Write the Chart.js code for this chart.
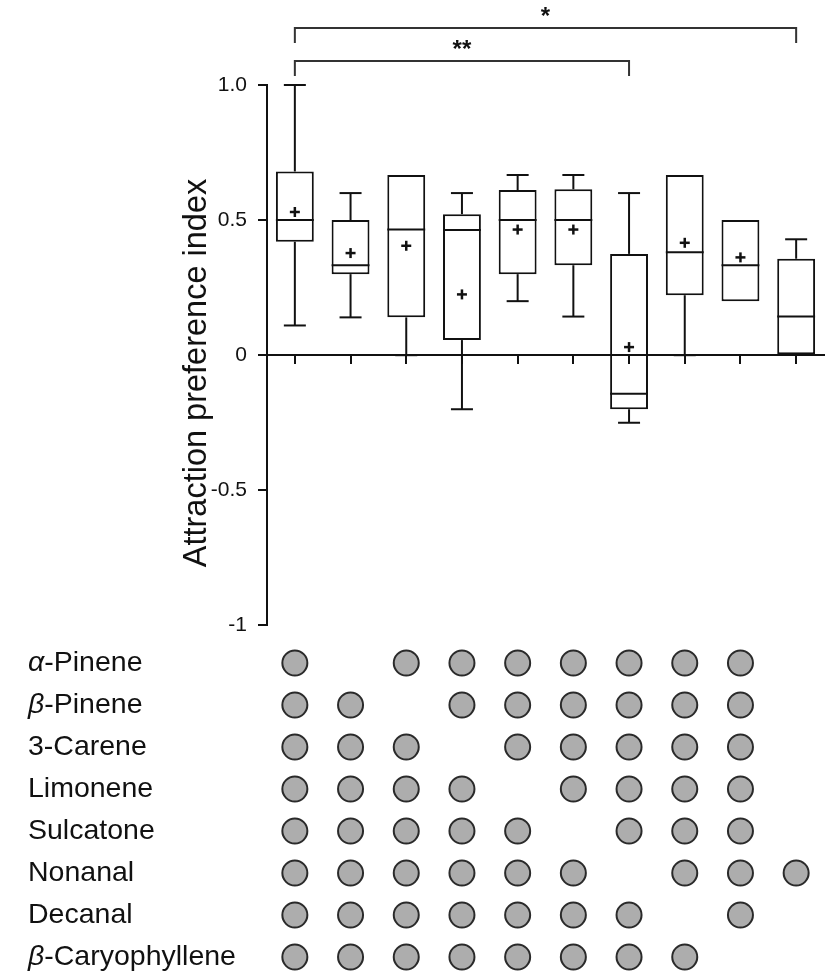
<!DOCTYPE html>
<html>
<head>
<meta charset="utf-8">
<title>Attraction preference index</title>
<script src="https://cdn.jsdelivr.net/npm/chart.js@4/dist/chart.umd.min.js"></script>
<style>
  html, body { margin: 0; padding: 0; background: #fff; overflow: hidden; }
  #wrap { position: relative; width: 828px; height: 976px; overflow: hidden; }
  canvas { display: block; position: absolute; left: 0; }
  #boxChart { top: 0; }
  #matrixChart { top: 627px; }
</style>
</head>
<body>
<div id="wrap">
  <canvas id="boxChart" width="828" height="649"></canvas>
  <canvas id="matrixChart" width="839" height="366"></canvas>
</div>
<script>
// Odour blends, one box per blend
const blends = ['1', '2', '3', '4', '5', '6', '7', '8', '9', '10'];
const whiskerLow  = [0.11, 0.14, 0,     -0.2,  0.2,   0.143, -0.25,  0,     0.2,   0];
const quartile1   = [0.42, 0.3,  0.14,  0.056, 0.3,   0.333, -0.2,   0.222, 0.2,   0];
const medians     = [0.5,  0.333, 0.465, 0.463, 0.5,  0.5,   -0.143, 0.381, 0.333, 0.143];
const quartile3   = [0.68, 0.5,  0.667, 0.522, 0.611, 0.614, 0.375,  0.667, 0.5,   0.357];
const whiskerHigh = [1.0,  0.6,  0.667, 0.6,   0.667, 0.667, 0.6,    0.667, 0.5,   0.429];
const means       = [0.53, 0.378, 0.405, 0.225, 0.465, 0.465, 0.03,  0.416, 0.362, null];

const yTicks = [-1, -0.5, 0, 0.5, 1];
const yTickLabels = ['-1', '-0.5', '0', '0.5', '1.0'];

// significance brackets (blend index from/to)
const bracketFrom = [0, 0];
const bracketTo = [9, 6];
const bracketStars = ['*', '**'];

// which compounds are in each blend
const compounds = ['α-Pinene', 'β-Pinene', '3-Carene', 'Limonene', 'Sulcatone', 'Nonanal', 'Decanal', 'β-Caryophyllene'];
const presence = [
  [1, 0, 1, 1, 1, 1, 1, 1, 1, 0],
  [1, 1, 0, 1, 1, 1, 1, 1, 1, 0],
  [1, 1, 1, 0, 1, 1, 1, 1, 1, 0],
  [1, 1, 1, 1, 0, 1, 1, 1, 1, 0],
  [1, 1, 1, 1, 1, 0, 1, 1, 1, 0],
  [1, 1, 1, 1, 1, 1, 0, 1, 1, 1],
  [1, 1, 1, 1, 1, 1, 1, 0, 1, 0],
  [1, 1, 1, 1, 1, 1, 1, 1, 0, 0]
];

const FONT = '"Liberation Sans", Arial, Helvetica, sans-serif';
Chart.defaults.font.family = FONT;
Chart.defaults.color = '#111';

function line(ctx, x1, y1, x2, y2) {
  ctx.beginPath();
  ctx.moveTo(x1, y1);
  ctx.lineTo(x2, y2);
  ctx.stroke();
}

// medians, whiskers and mean crosses on top of the floating bars
const boxDetails = {
  id: 'boxDetails',
  afterDatasetsDraw(chart) {
    const ctx = chart.ctx;
    const y = chart.scales.y;
    const bars = chart.getDatasetMeta(0).data;
    ctx.save();
    ctx.strokeStyle = '#111';
    bars.forEach((bar, i) => {
      const x = bar.x;
      const half = bar.width / 2;
      const cap = 11;
      ctx.lineWidth = 2;
      const yMed = y.getPixelForValue(medians[i]);
      line(ctx, x - half, yMed, x + half, yMed);
      if (whiskerHigh[i] > quartile3[i]) {
        const top = y.getPixelForValue(whiskerHigh[i]);
        line(ctx, x, y.getPixelForValue(quartile3[i]), x, top);
        line(ctx, x - cap, top, x + cap, top);
      }
      if (whiskerLow[i] < quartile1[i]) {
        const bottom = y.getPixelForValue(whiskerLow[i]);
        line(ctx, x, y.getPixelForValue(quartile1[i]), x, bottom);
        line(ctx, x - cap, bottom, x + cap, bottom);
      }
      if (means[i] !== null) {
        const ym = y.getPixelForValue(means[i]);
        ctx.lineWidth = 2.5;
        line(ctx, x - 5, ym, x + 5, ym);
        line(ctx, x, ym - 5, x, ym + 5);
      }
    });
    ctx.restore();
  }
};

// brackets with stars above the plot, plus the rotated axis title
const annotations = {
  id: 'annotations',
  afterDraw(chart) {
    const ctx = chart.ctx;
    const x = chart.scales.x;
    const bracketY = [28, 61];
    ctx.save();
    ctx.strokeStyle = '#333';
    ctx.lineWidth = 2;
    ctx.fillStyle = '#111';
    ctx.font = 'bold 24px ' + FONT;
    ctx.textAlign = 'center';
    ctx.textBaseline = 'alphabetic';
    bracketFrom.forEach((from, k) => {
      const x1 = x.getPixelForValue(from);
      const x2 = x.getPixelForValue(bracketTo[k]);
      const yb = bracketY[k];
      ctx.beginPath();
      ctx.moveTo(x1, yb + 15);
      ctx.lineTo(x1, yb);
      ctx.lineTo(x2, yb);
      ctx.lineTo(x2, yb + 15);
      ctx.stroke();
      ctx.fillText(bracketStars[k], (x1 + x2) / 2, yb - 4);
    });

    ctx.translate(197, 373);
    ctx.rotate(-Math.PI / 2);
    ctx.font = '32.5px ' + FONT;
    ctx.textBaseline = 'middle';
    ctx.fillText('Attraction preference index', 0, 0);
    ctx.restore();
  }
};

new Chart(document.getElementById('boxChart'), {
  type: 'bar',
  data: {
    labels: blends,
    datasets: [{
      data: quartile1.map((q, i) => [q, quartile3[i]]),
      backgroundColor: '#fff',
      borderColor: '#111',
      borderWidth: 2,
      borderSkipped: false,
      barPercentage: 0.68,
      categoryPercentage: 1
    }]
  },
  options: {
    responsive: false,
    animation: false,
    events: [],
    layout: { padding: { top: 85, right: 4, bottom: 4, left: 0 } },
    plugins: { legend: { display: false }, tooltip: { enabled: false } },
    scales: {
      x: {
        position: { y: 0 },
        offset: true,
        afterFit(scale) { scale.height = 0; },
        grid: { display: true, drawOnChartArea: false, drawTicks: true, tickLength: 8, offset: false, color: '#111', lineWidth: 2, z: 1 },
        border: { display: true, color: '#111', width: 2, z: 1 },
        ticks: { display: false }
      },
      y: {
        min: -1,
        max: 1,
        afterFit(scale) { scale.width = 267; },
        afterBuildTicks(scale) { scale.ticks = yTicks.map(v => ({ value: v })); },
        grid: { drawOnChartArea: false, drawTicks: true, tickLength: 9, color: '#111', lineWidth: 2 },
        border: { display: true, color: '#111', width: 2 },
        ticks: {
          padding: 11,
          font: { size: 21 },
          color: '#111',
          callback: (v) => yTickLabels[yTicks.indexOf(v)]
        }
      }
    }
  },
  plugins: [boxDetails, annotations]
});

// compound names, Greek prefixes in italics
const rowLabels = {
  id: 'rowLabels',
  afterDraw(chart) {
    const ctx = chart.ctx;
    const y = chart.scales.y;
    ctx.save();
    ctx.fillStyle = '#111';
    ctx.textBaseline = 'middle';
    ctx.textAlign = 'left';
    compounds.forEach((name, r) => {
      const yy = y.getPixelForValue(r);
      let xx = 28;
      let rest = name;
      if (/^[αβ]/.test(name)) {
        ctx.font = 'italic 28.5px ' + FONT;
        ctx.fillText(name[0], xx, yy);
        xx += ctx.measureText(name[0]).width;
        rest = name.slice(1);
      }
      ctx.font = '28.5px ' + FONT;
      ctx.fillText(rest, xx, yy);
    });
    ctx.restore();
  }
};

const matrixPoints = [];
presence.forEach((row, r) => {
  row.forEach((has, c) => {
    if (has) matrixPoints.push({ x: blends[c], y: compounds[r] });
  });
});

new Chart(document.getElementById('matrixChart'), {
  type: 'scatter',
  data: {
    datasets: [{
      data: matrixPoints,
      pointRadius: 12.5,
      borderWidth: 2,
      backgroundColor: '#adadad',
      borderColor: '#2a2a2a',
      clip: false
    }]
  },
  options: {
    responsive: false,
    animation: false,
    events: [],
    layout: { padding: { top: 15, right: 15, bottom: 15, left: 267 } },
    plugins: { legend: { display: false }, tooltip: { enabled: false } },
    scales: {
      x: { type: 'category', labels: blends, offset: true, display: false },
      y: { type: 'category', labels: compounds, offset: true, display: false }
    }
  },
  plugins: [rowLabels]
});
</script>
</body>
</html>
